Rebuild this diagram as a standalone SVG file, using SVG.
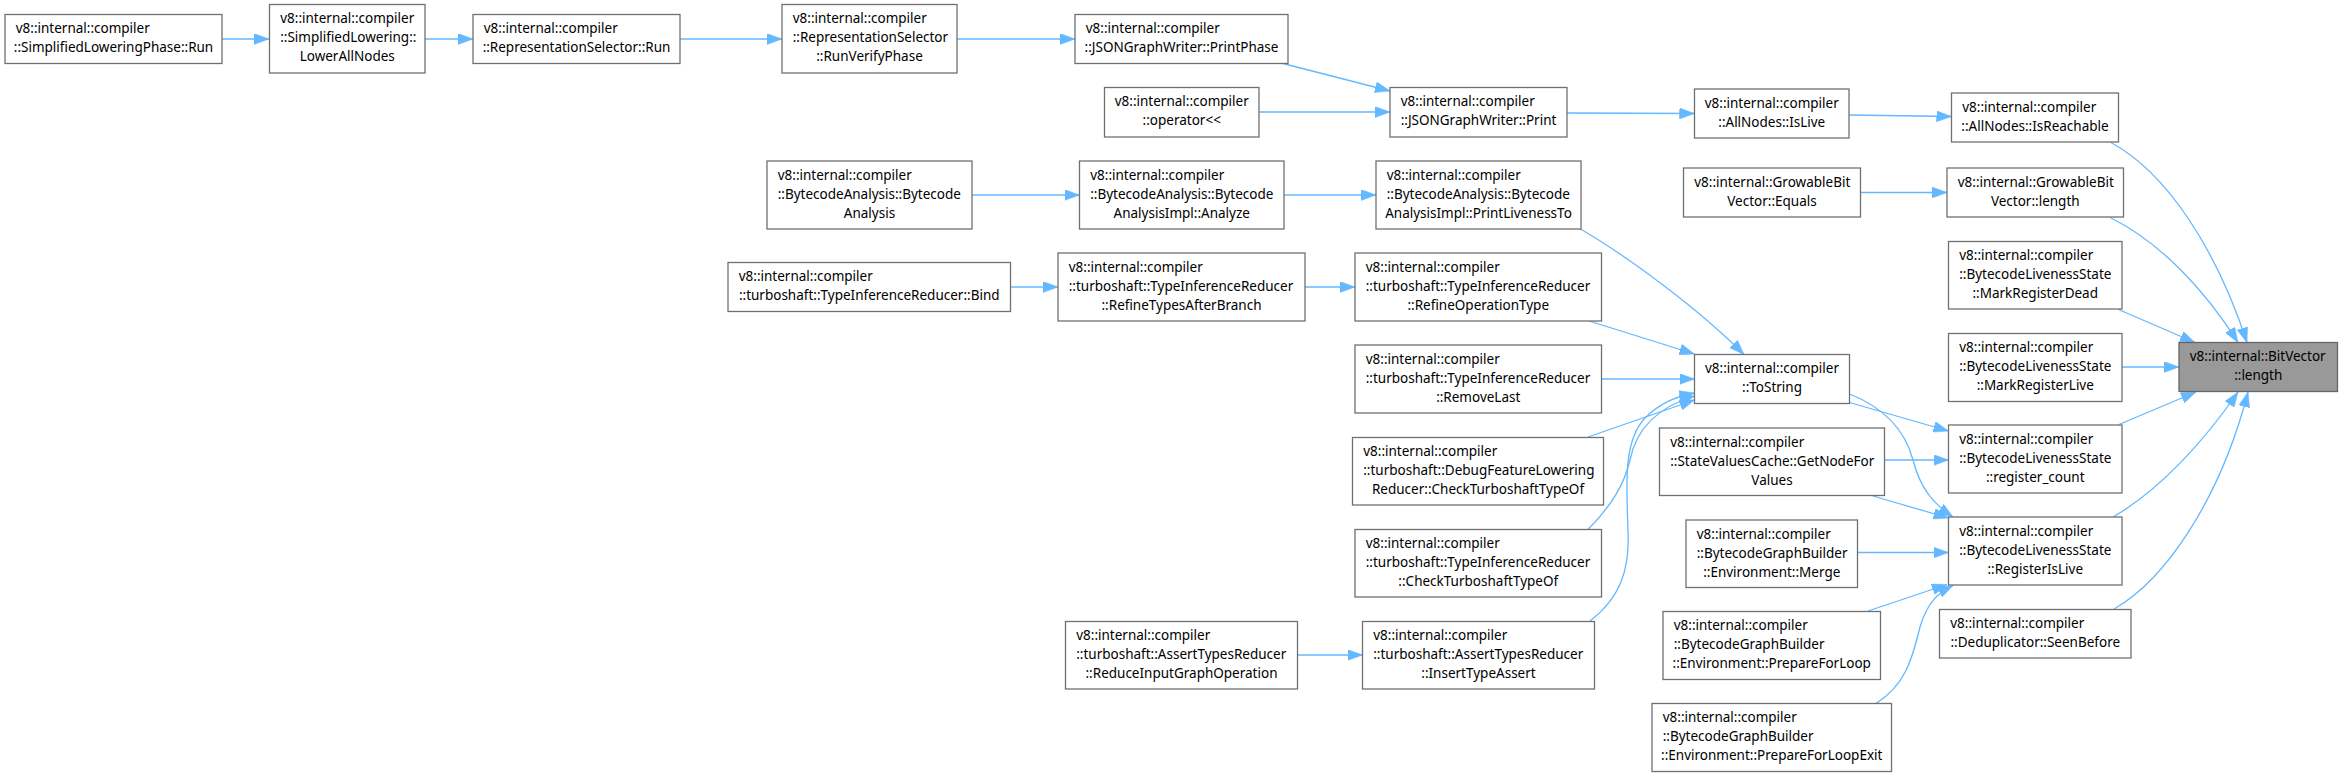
<svg xmlns="http://www.w3.org/2000/svg" width="2343" height="777" viewBox="0 0 2343 777">
<style>
.n rect{fill:#ffffff;stroke:#707070;stroke-width:1.3}
.n.root rect{fill:#999999;stroke:#666666}
.n text{font-family:"Noto Sans","Open Sans","DejaVu Sans",sans-serif;font-size:13.5px;fill:#000000}
.l{text-anchor:start}
.c{text-anchor:middle}
.e path{fill:none;stroke:#63b8ff;stroke-width:1.3;marker-end:url(#ah)}
</style>
<defs>
<marker id="ah" markerUnits="userSpaceOnUse" markerWidth="15" markerHeight="11" refX="15" refY="5.5" orient="auto">
<path d="M0,0 L15,5.5 L0,11 Z" fill="#63b8ff" stroke="#63b8ff" stroke-width="0.5"/>
</marker>
</defs>
<rect width="2343" height="777" fill="#ffffff"/>
<g id="edges" class="e">
<path d="M222,39 L269,39"/>
<path d="M425,39 L473,39"/>
<path d="M680,39 L782,39"/>
<path d="M957,39 L1075,39"/>
<path d="M1283,63.5 L1390,91"/>
<path d="M1259,112 L1390,112"/>
<path d="M1567,113 L1694.5,113.5"/>
<path d="M1849,115 L1951.5,116.5"/>
<path d="M2111,142.5 C2165,172 2215,245 2247,342.5"/>
<path d="M2110,217.5 C2160,242 2205,290 2238,342.5"/>
<path d="M2118.5,309.5 L2195,342.5"/>
<path d="M2122,367 L2179,367"/>
<path d="M2119,424.5 L2196,392"/>
<path d="M2113,517 C2160,490 2205,440 2238,392"/>
<path d="M2114,609 C2165,580 2220,500 2248,392"/>
<path d="M1580.5,229 C1630,258 1700,310 1744,354.5"/>
<path d="M1589,321 L1694.5,354"/>
<path d="M1601.5,379 L1694.5,379"/>
<path d="M1588,437 L1694.5,400"/>
<path d="M1588,529.5 C1612,505 1624,485 1630,460 C1636,430 1655,408 1694.5,396"/>
<path d="M1590,621 C1620,598 1630,570 1628,530 C1626,480 1624,440 1645,418 C1660,403 1675,397 1694.5,393"/>
<path d="M1849.5,402.5 L1948.5,431"/>
<path d="M1849.5,394 C1885,408 1905,430 1913,460 C1920,487 1932,503 1953,517"/>
<path d="M1884.5,460 L1948.5,460"/>
<path d="M1873,496 L1948.5,518"/>
<path d="M1857.5,552.5 L1948.5,552.5"/>
<path d="M1868,611 L1947,584.5"/>
<path d="M1876,703.5 C1905,685 1912,660 1920,627 C1928,600 1940,592 1953,585.5"/>
<path d="M972,195 L1079.5,195"/>
<path d="M1284,195 L1376,195"/>
<path d="M1860.5,192.5 L1947,192.5"/>
<path d="M1010.5,287 L1058,287"/>
<path d="M1305,287 L1355,287"/>
<path d="M1297.5,655 L1362.5,655"/>
</g>
<g id="n1" class="n" transform="translate(5,14.5)"><rect width="217" height="49"/><text class="l" x="10.7" y="18.5">v8::internal::compiler</text><text class="c" x="108.5" y="37.5">::SimplifiedLoweringPhase::Run</text></g>
<g id="n2" class="n" transform="translate(269.5,4.5)"><rect width="155.5" height="68.5"/><text class="l" x="10.7" y="18.5">v8::internal::compiler</text><text class="l" x="10.7" y="37.5">::SimplifiedLowering::</text><text class="c" x="77.75" y="56.5">LowerAllNodes</text></g>
<g id="n3" class="n" transform="translate(473,14.5)"><rect width="207" height="49"/><text class="l" x="10.7" y="18.5">v8::internal::compiler</text><text class="c" x="103.5" y="37.5">::RepresentationSelector::Run</text></g>
<g id="n4" class="n" transform="translate(782,4.5)"><rect width="175" height="68.5"/><text class="l" x="10.7" y="18.5">v8::internal::compiler</text><text class="l" x="10.7" y="37.5">::RepresentationSelector</text><text class="c" x="87.5" y="56.5">::RunVerifyPhase</text></g>
<g id="n5" class="n" transform="translate(1075,14.5)"><rect width="213" height="49"/><text class="l" x="10.7" y="18.5">v8::internal::compiler</text><text class="c" x="106.5" y="37.5">::JSONGraphWriter::PrintPhase</text></g>
<g id="n6" class="n" transform="translate(1104.5,87.5)"><rect width="154.5" height="49.5"/><text class="c" x="77.25" y="18.5">v8::internal::compiler</text><text class="c" x="77.25" y="37.5">::operator&lt;&lt;</text></g>
<g id="n7" class="n" transform="translate(1390,87.5)"><rect width="177" height="49.5"/><text class="l" x="10.7" y="18.5">v8::internal::compiler</text><text class="c" x="88.5" y="37.5">::JSONGraphWriter::Print</text></g>
<g id="n8" class="n" transform="translate(1694.5,89)"><rect width="154.5" height="49"/><text class="c" x="77.25" y="18.5">v8::internal::compiler</text><text class="c" x="77.25" y="37.5">::AllNodes::IsLive</text></g>
<g id="n9" class="n" transform="translate(1951.5,93)"><rect width="167" height="49"/><text class="l" x="10.7" y="18.5">v8::internal::compiler</text><text class="c" x="83.5" y="37.5">::AllNodes::IsReachable</text></g>
<g id="n10" class="n" transform="translate(767,161)"><rect width="205" height="68"/><text class="l" x="10.7" y="18.5">v8::internal::compiler</text><text class="l" x="10.7" y="37.5">::BytecodeAnalysis::Bytecode</text><text class="c" x="102.5" y="56.5">Analysis</text></g>
<g id="n11" class="n" transform="translate(1079.5,161)"><rect width="204.5" height="68"/><text class="l" x="10.7" y="18.5">v8::internal::compiler</text><text class="l" x="10.7" y="37.5">::BytecodeAnalysis::Bytecode</text><text class="c" x="102.25" y="56.5">AnalysisImpl::Analyze</text></g>
<g id="n12" class="n" transform="translate(1376,161)"><rect width="205" height="68"/><text class="l" x="10.7" y="18.5">v8::internal::compiler</text><text class="l" x="10.7" y="37.5">::BytecodeAnalysis::Bytecode</text><text class="c" x="102.5" y="56.5">AnalysisImpl::PrintLivenessTo</text></g>
<g id="n13" class="n" transform="translate(1683.5,168)"><rect width="177" height="49"/><text class="l" x="10.7" y="18.5">v8::internal::GrowableBit</text><text class="c" x="88.5" y="37.5">Vector::Equals</text></g>
<g id="n14" class="n" transform="translate(1947,168)"><rect width="176.5" height="49"/><text class="l" x="10.7" y="18.5">v8::internal::GrowableBit</text><text class="c" x="88.25" y="37.5">Vector::length</text></g>
<g id="n15" class="n" transform="translate(728,262.5)"><rect width="282.5" height="49"/><text class="l" x="10.7" y="18.5">v8::internal::compiler</text><text class="c" x="141.25" y="37.5">::turboshaft::TypeInferenceReducer::Bind</text></g>
<g id="n16" class="n" transform="translate(1058,253)"><rect width="247" height="68"/><text class="l" x="10.7" y="18.5">v8::internal::compiler</text><text class="l" x="10.7" y="37.5">::turboshaft::TypeInferenceReducer</text><text class="c" x="123.5" y="56.5">::RefineTypesAfterBranch</text></g>
<g id="n17" class="n" transform="translate(1355,253)"><rect width="246.5" height="68"/><text class="l" x="10.7" y="18.5">v8::internal::compiler</text><text class="l" x="10.7" y="37.5">::turboshaft::TypeInferenceReducer</text><text class="c" x="123.25" y="56.5">::RefineOperationType</text></g>
<g id="n18" class="n" transform="translate(1948.5,241.5)"><rect width="173.5" height="67.5"/><text class="l" x="10.7" y="18.5">v8::internal::compiler</text><text class="l" x="10.7" y="37.5">::BytecodeLivenessState</text><text class="c" x="86.75" y="56.5">::MarkRegisterDead</text></g>
<g id="n19" class="n" transform="translate(1948.5,333.5)"><rect width="173.5" height="68"/><text class="l" x="10.7" y="18.5">v8::internal::compiler</text><text class="l" x="10.7" y="37.5">::BytecodeLivenessState</text><text class="c" x="86.75" y="56.5">::MarkRegisterLive</text></g>
<g id="n20" class="n root" transform="translate(2179,342.5)"><rect width="158.5" height="49"/><text class="l" x="10.7" y="18.5">v8::internal::BitVector</text><text class="c" x="79.25" y="37.5">::length</text></g>
<g id="n21" class="n" transform="translate(1355,345)"><rect width="246.5" height="68"/><text class="l" x="10.7" y="18.5">v8::internal::compiler</text><text class="l" x="10.7" y="37.5">::turboshaft::TypeInferenceReducer</text><text class="c" x="123.25" y="56.5">::RemoveLast</text></g>
<g id="n22" class="n" transform="translate(1694.5,354.5)"><rect width="155" height="49"/><text class="c" x="77.5" y="18.5">v8::internal::compiler</text><text class="c" x="77.5" y="37.5">::ToString</text></g>
<g id="n23" class="n" transform="translate(1352.5,437.5)"><rect width="251" height="67.5"/><text class="l" x="10.7" y="18.5">v8::internal::compiler</text><text class="l" x="10.7" y="37.5">::turboshaft::DebugFeatureLowering</text><text class="c" x="125.5" y="56.5">Reducer::CheckTurboshaftTypeOf</text></g>
<g id="n24" class="n" transform="translate(1659.5,428)"><rect width="225" height="67.5"/><text class="l" x="10.7" y="18.5">v8::internal::compiler</text><text class="l" x="10.7" y="37.5">::StateValuesCache::GetNodeFor</text><text class="c" x="112.5" y="56.5">Values</text></g>
<g id="n25" class="n" transform="translate(1948.5,425)"><rect width="173.5" height="68"/><text class="l" x="10.7" y="18.5">v8::internal::compiler</text><text class="l" x="10.7" y="37.5">::BytecodeLivenessState</text><text class="c" x="86.75" y="56.5">::register_count</text></g>
<g id="n26" class="n" transform="translate(1686,520)"><rect width="171.5" height="67.5"/><text class="l" x="10.7" y="18.5">v8::internal::compiler</text><text class="l" x="10.7" y="37.5">::BytecodeGraphBuilder</text><text class="c" x="85.75" y="56.5">::Environment::Merge</text></g>
<g id="n27" class="n" transform="translate(1948.5,517)"><rect width="173.5" height="68"/><text class="l" x="10.7" y="18.5">v8::internal::compiler</text><text class="l" x="10.7" y="37.5">::BytecodeLivenessState</text><text class="c" x="86.75" y="56.5">::RegisterIsLive</text></g>
<g id="n28" class="n" transform="translate(1355,529.5)"><rect width="246.5" height="67.5"/><text class="l" x="10.7" y="18.5">v8::internal::compiler</text><text class="l" x="10.7" y="37.5">::turboshaft::TypeInferenceReducer</text><text class="c" x="123.25" y="56.5">::CheckTurboshaftTypeOf</text></g>
<g id="n29" class="n" transform="translate(1663,611.5)"><rect width="217.5" height="68"/><text class="l" x="10.7" y="18.5">v8::internal::compiler</text><text class="l" x="10.7" y="37.5">::BytecodeGraphBuilder</text><text class="c" x="108.75" y="56.5">::Environment::PrepareForLoop</text></g>
<g id="n30" class="n" transform="translate(1939.5,609.5)"><rect width="191.5" height="48.5"/><text class="l" x="10.7" y="18.5">v8::internal::compiler</text><text class="c" x="95.75" y="37.5">::Deduplicator::SeenBefore</text></g>
<g id="n31" class="n" transform="translate(1065.5,621.5)"><rect width="232" height="67.5"/><text class="l" x="10.7" y="18.5">v8::internal::compiler</text><text class="l" x="10.7" y="37.5">::turboshaft::AssertTypesReducer</text><text class="c" x="116" y="56.5">::ReduceInputGraphOperation</text></g>
<g id="n32" class="n" transform="translate(1362.5,621.5)"><rect width="232" height="67.5"/><text class="l" x="10.7" y="18.5">v8::internal::compiler</text><text class="l" x="10.7" y="37.5">::turboshaft::AssertTypesReducer</text><text class="c" x="116" y="56.5">::InsertTypeAssert</text></g>
<g id="n33" class="n" transform="translate(1652,703.5)"><rect width="239.5" height="68"/><text class="l" x="10.7" y="18.5">v8::internal::compiler</text><text class="l" x="10.7" y="37.5">::BytecodeGraphBuilder</text><text class="c" x="119.75" y="56.5">::Environment::PrepareForLoopExit</text></g>
</svg>
